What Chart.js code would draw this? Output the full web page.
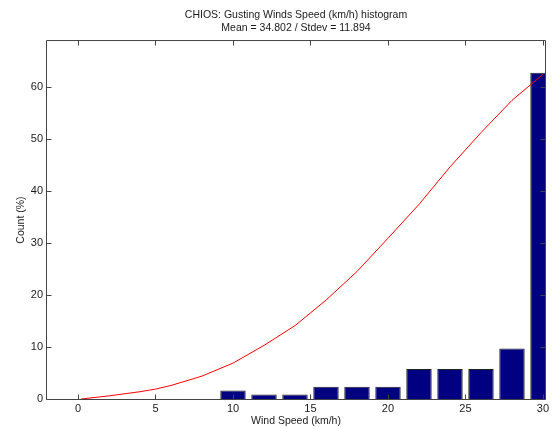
<!DOCTYPE html>
<html><head><meta charset="utf-8">
<script src="https://cdn.jsdelivr.net/npm/chart.js@4/dist/chart.umd.min.js"></script>
<style>html,body{margin:0;padding:0;background:#fff;}#wrap{width:553px;height:427px;position:relative;}</style>
</head><body><div id="wrap"><canvas id="c"></canvas></div>
<script>
const titleLines = ['CHIOS: Gusting Winds Speed (km/h) histogram', 'Mean = 34.802 / Stdev = 11.894'];
const xAxisTitle = 'Wind Speed (km/h)';
const yAxisTitle = 'Count (%)';
const binCenters = [10, 12, 14, 16, 18, 20, 22, 24, 26, 28, 30];
const binPercents = [1.65, 0.88, 0.88, 2.37, 2.37, 2.37, 5.77, 5.77, 5.77, 9.73, 62.7];
const fitX = [0.2, 2, 4, 5, 6, 8, 10, 12, 14, 16, 18, 20, 22, 24, 26, 28, 30];
const fitY = [0.0, 0.6, 1.4, 1.9, 2.6, 4.4, 6.9, 10.3, 14.1, 19.0, 24.5, 30.9, 37.4, 44.6, 51.2, 57.4, 62.4];
const xTicks = [0, 5, 10, 15, 20, 25, 30];
const yTicks = [0, 10, 20, 30, 40, 50, 60];
const xRange = [-2, 30.13];
const yRange = [0, 68.8];

const FONT = 'Liberation Sans, Arial, Helvetica, sans-serif';
const AXIS_COLOR = '#444';

const boxPlugin = {
  id: 'boxTicks',
  afterDraw(chart) {
    const {ctx, chartArea: a, scales: {x, y}} = chart;
    ctx.save();
    ctx.strokeStyle = AXIS_COLOR;
    ctx.lineWidth = 1;
    ctx.beginPath();
    const L = a.left - 0.5, R = a.right + 0.5, T = a.top - 0.5, B = a.bottom + 0.5;
    ctx.moveTo(L, T); ctx.lineTo(R, T); ctx.lineTo(R, B); ctx.lineTo(L, B); ctx.closePath();
    xTicks.forEach(v => {
      const px = Math.round(x.getPixelForValue(v)) + 0.5;
      ctx.moveTo(px, B); ctx.lineTo(px, B - 5);
      ctx.moveTo(px, T); ctx.lineTo(px, T + 5);
    });
    yTicks.forEach(v => {
      const py = Math.round(y.getPixelForValue(v)) + 0.5;
      ctx.moveTo(L, py); ctx.lineTo(L + 5, py);
      ctx.moveTo(R, py); ctx.lineTo(R - 5, py);
    });
    ctx.stroke();
    ctx.restore();
  }
};

new Chart(document.getElementById('c'), {
  type: 'bar',
  data: {
    datasets: [
      {
        type: 'line',
        data: fitX.map((v, i) => ({x: v, y: fitY[i]})),
        borderColor: 'rgb(255,0,0)',
        borderWidth: 1,
        pointRadius: 0,
        tension: 0,
        fill: false,
        order: 0
      },
      {
        type: 'bar',
        data: binCenters.map((v, i) => ({x: v, y: binPercents[i]})),
        backgroundColor: '#000080',
        borderColor: '#222',
        borderWidth: 1,
        barPercentage: 0.82,
        categoryPercentage: 1.0,
        order: 1
      }
    ]
  },
  plugins: [boxPlugin],
  options: {
    responsive: true,
    maintainAspectRatio: false,
    animation: false,
    layout: {padding: {left: 0, right: 8, top: 0, bottom: 0}},
    plugins: {
      legend: {display: false},
      tooltip: {enabled: false},
      title: {
        display: true,
        text: titleLines,
        fullSize: false,
        color: '#1a1a1a',
        font: {family: FONT, size: 10.5, weight: 'normal', lineHeight: 1.24},
        padding: {top: 8.5, bottom: 6.5}
      }
    },
    scales: {
      x: {
        type: 'linear',
        offset: false,
        min: xRange[0], max: xRange[1],
        grid: {display: false, drawTicks: false, offset: false},
        border: {display: false},
        afterBuildTicks: s => { s.ticks = xTicks.map(v => ({value: v})); },
        afterFit: s => { s.height = 28; },
        ticks: {color: '#1a1a1a', padding: 3, maxRotation: 0, autoSkip: false, font: {family: FONT, size: 11}},
        title: {display: true, text: xAxisTitle, color: '#1a1a1a', font: {family: FONT, size: 10.5}, padding: {top: 0, bottom: 0}}
      },
      y: {
        type: 'linear',
        min: yRange[0], max: yRange[1],
        grid: {display: false, drawTicks: false},
        border: {display: false},
        afterBuildTicks: s => { s.ticks = yTicks.map(v => ({value: v})); },
        afterFit: s => { s.width = 47; },
        ticks: {color: '#1a1a1a', padding: 4, autoSkip: false, font: {family: FONT, size: 11}},
        title: {display: true, text: yAxisTitle, color: '#1a1a1a', font: {family: FONT, size: 10.5}, padding: {top: 15, bottom: 0}}
      }
    }
  }
});
</script>
</body></html>
